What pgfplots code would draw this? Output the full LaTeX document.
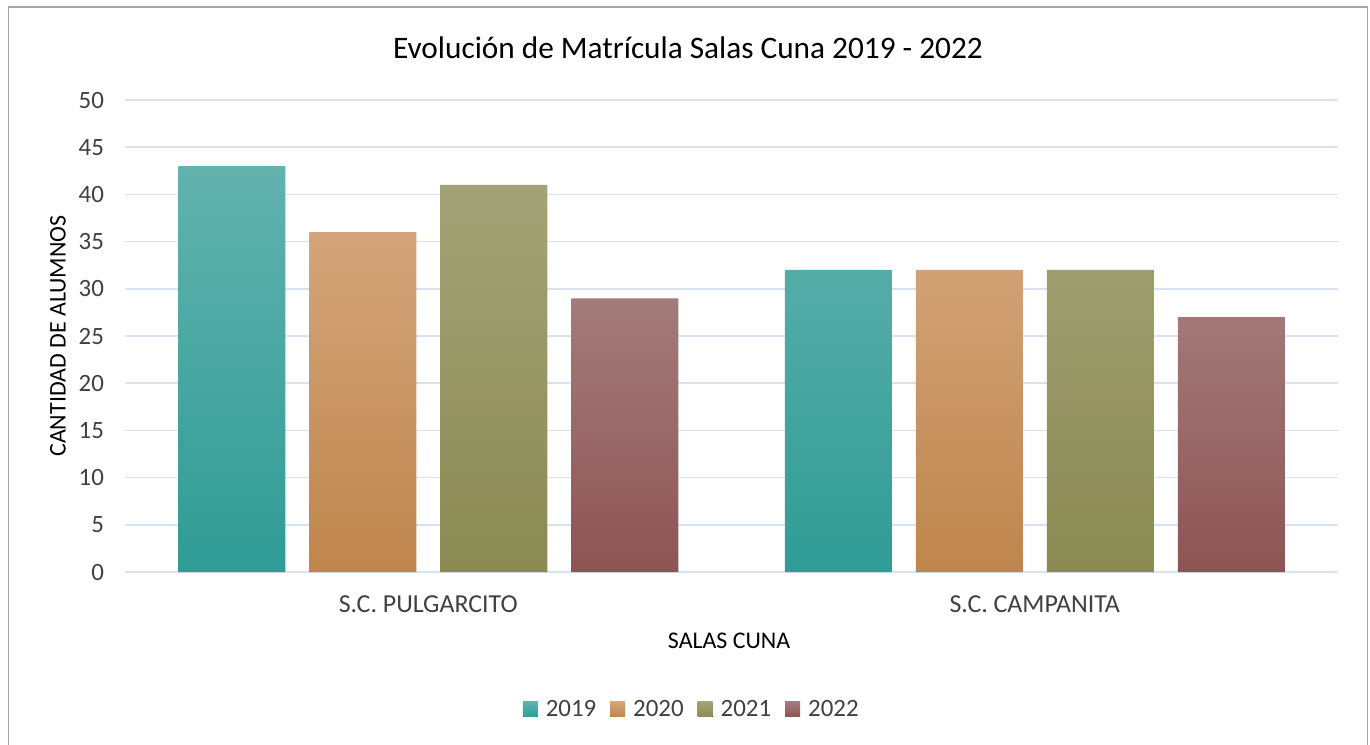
\documentclass[border=0pt]{standalone}
\usepackage{fontspec}
\setmainfont{Carlito}
\usepackage{pgfplots}
\pgfplotsset{compat=1.18}
\definecolor{gridc}{HTML}{D9E2F1}
\definecolor{txt}{HTML}{404040}
\definecolor{aT}{HTML}{62B2AE}\definecolor{aB}{HTML}{2F9C95}
\definecolor{bT}{HTML}{D4A57A}\definecolor{bB}{HTML}{BF854C}
\definecolor{cT}{HTML}{A4A377}\definecolor{cB}{HTML}{8A8A53}
\definecolor{dT}{HTML}{A47B7B}\definecolor{dB}{HTML}{8E5454}
\begin{document}
\begin{tikzpicture}[x=1bp,y=1bp]
\useasboundingbox (0,0) rectangle (685,-372);
\draw[gray!70, line width=0.8bp] (4.2,-3.6) rectangle (683.8,-380);
\node[font=\fontsize{15.7}{19}\selectfont, text=black] at (344,-24) {Evolución de Matrícula Salas Cuna 2019 - 2022};
\begin{axis}[
  at={(62.5bp,-286bp)}, anchor=south west,
  scale only axis, width=606.5bp, height=236bp,
  xmin=-0.5, xmax=1.5, ymin=0, ymax=50,
  ytick={0,5,...,50},
  xtick={0,1}, xticklabels={S.C. PULGARCITO, S.C. CAMPANITA},
  axis line style={draw=none},
  axis x line*=bottom, axis y line*=left,
  x axis line style={draw=gridc, line width=0.8bp},
  tick style={draw=none},
  ymajorgrids, grid style={gridc, line width=0.8bp},
  ticklabel style={font=\fontsize{12.5}{15}\selectfont, text=txt},
  xticklabel style={font=\fontsize{13}{15}\selectfont, yshift=-4bp},
  /pgf/number format/assume math mode=true,
  yticklabel style={xshift=-7bp},
  xlabel={SALAS CUNA}, ylabel={CANTIDAD DE ALUMNOS},
  label style={font=\fontsize{12}{14}\selectfont, text=black},
  xlabel style={at={(axis description cs:0.498,-0.145)}, anchor=center},
  ylabel style={at={(axis description cs:-0.0552,0.5)}, anchor=center, rotate=0},
  ybar=12bp, bar width=53.5bp,
  legend style={at={(axis description cs:0.468,-0.292)}, anchor=center, draw=none, legend columns=-1, font=\fontsize{12.5}{15}\selectfont, text=txt, /tikz/every even column/.append style={column sep=5bp}, /tikz/every odd column/.append style={column sep=2bp}},
  legend image code/.code={\fill[#1] (0bp,-3.5bp) rectangle (7.5bp,4bp);},
]
\addplot[draw=none, top color=aT, bottom color=aB] coordinates {(0,43) (1,32)};
\addplot[draw=none, top color=bT, bottom color=bB] coordinates {(0,36) (1,32)};
\addplot[draw=none, top color=cT, bottom color=cB] coordinates {(0,41) (1,32)};
\addplot[draw=none, top color=dT, bottom color=dB] coordinates {(0,29) (1,27)};
\legend{2019,2020,2021,2022}
\end{axis}
\end{tikzpicture}
\end{document}
